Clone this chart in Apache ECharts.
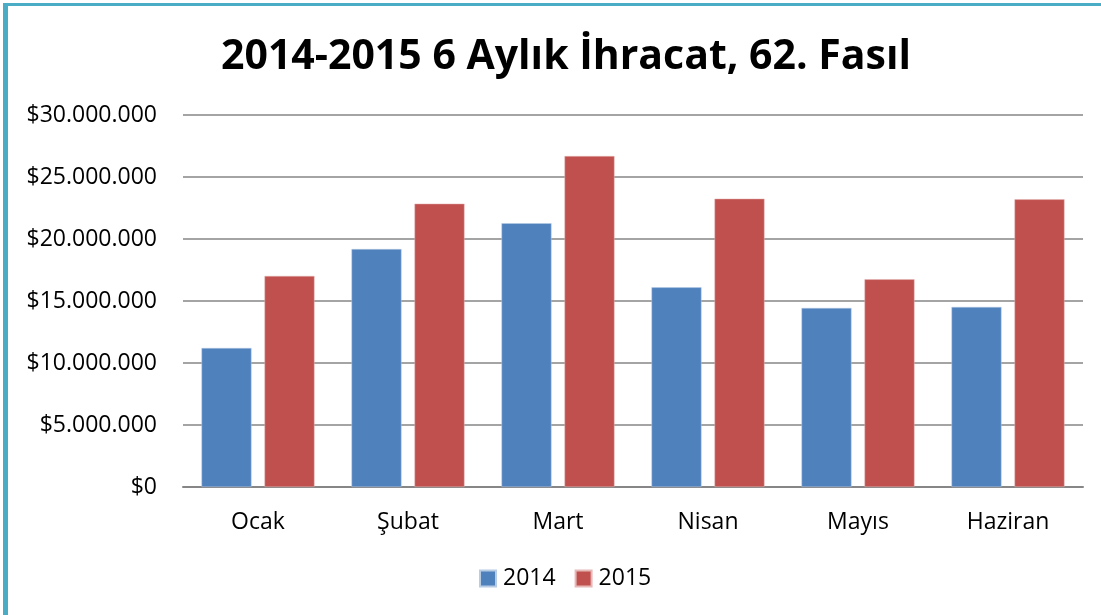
<!DOCTYPE html>
<html><head><meta charset="utf-8">
<script src="https://cdn.jsdelivr.net/npm/echarts@6/dist/echarts.min.js"></script>
<style>html,body{margin:0;padding:0;background:#fff}#c{width:1101px;height:615px}</style>
</head><body><div id="c"></div>
<script>
const categories = ['Ocak', 'Şubat', 'Mart', 'Nisan', 'Mayıs', 'Haziran'];
const values2014 = [11210000, 19190000, 21270000, 16100000, 14440000, 14520000];
const values2015 = [17020000, 22850000, 26690000, 23250000, 16750000, 23200000];
const seriesNames = ['2014', '2015'];
const titleText = '2014-2015 6 Aylık İhracat, 62. Fasıl';

function fmt(v){
  return '$' + String(Math.round(v)).replace(/\B(?=(\d{3})+(?!\d))/g, '.');
}
const font = '"Open Sans", "Noto Sans", sans-serif';
const chart = echarts.init(document.getElementById('c'));
chart.setOption({
  animation: false,
  backgroundColor: '#fff',
  title: {
    text: titleText, left: 561, top: 32, textAlign: 'center',
    textStyle: { fontFamily: font, fontWeight: 'bold', fontSize: 41, color: '#000' }
  },
  legend: {
    data: seriesNames, left: 479, top: 567, padding: 0, itemWidth: 16, itemHeight: 16, itemGap: 19,
    icon: 'rect',
    textStyle: { fontFamily: font, fontSize: 23, color: '#000', padding: [0,0,0,2] }
  },
  grid: { left: 183, right: 18, top: 115, bottom: 128, containLabel: false },
  xAxis: {
    type: 'category', data: categories,
    axisLine: { lineStyle: { color: '#868686', width: 2 } },
    axisTick: { show: false },
    axisLabel: { margin: 24, fontFamily: font, fontSize: 23, color: '#000' }
  },
  yAxis: {
    type: 'value', min: 0, max: 30000000, interval: 5000000,
    axisLine: { show: false }, axisTick: { show: false },
    splitLine: { lineStyle: { color: '#868686', width: 1.5 } },
    axisLabel: { margin: 26, fontFamily: font, fontSize: 23, color: '#000', formatter: fmt }
  },
  series: [
    { name: seriesNames[0], type: 'bar', data: values2014, barWidth: 50, barGap: '26%',
      itemStyle: { color: '#4F81BD', borderColor: '#b8cce4', borderWidth: 0.5 } },
    { name: seriesNames[1], type: 'bar', data: values2015, barWidth: 50,
      itemStyle: { color: '#C0504D', borderColor: '#e6b9b8', borderWidth: 0.5 } }
  ],
  graphic: [
    { type: 'rect', shape: { x: 3, y: 3, width: 5, height: 612 }, style: { fill: '#4BACC6' } },
    { type: 'rect', shape: { x: 3, y: 3, width: 1098, height: 3 }, style: { fill: '#4BACC6' } }
  ]
});
</script></body></html>
